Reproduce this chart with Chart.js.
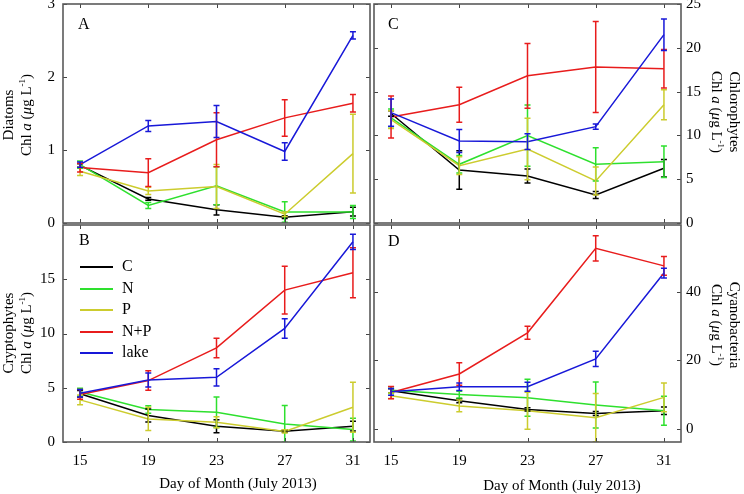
<!DOCTYPE html>
<html>
<head>
<meta charset="utf-8">
<script src="https://cdn.jsdelivr.net/npm/chart.js@4.4.1/dist/chart.umd.min.js"></script>
<style>
  body { margin: 0; background: #fff; }
  #wrap { position: relative; width: 744px; height: 494px; font-family: 'Liberation Serif', 'Times New Roman', serif; color: #000; }
  #wrap canvas { position: absolute; left: 0; top: 0; }
  .ytitle { position: absolute; white-space: nowrap; text-align: center; font-size: 15px; line-height: 18px; z-index: 5; }
  .ytitle sup { font-size: 9px; vertical-align: 6px; line-height: 0; }
  .letter { position: absolute; font-size: 16px; z-index: 5; }
  .xtitle { position: absolute; font-size: 15px; white-space: nowrap; transform: translate(-50%, -50%); z-index: 5; }
  .leg { position: absolute; left: 80px; font-size: 16px; z-index: 5; }
  .leg span.ln { position: absolute; left: 0; top: -1px; width: 33px; height: 2px; }
  .leg span.tx { position: absolute; left: 42px; top: -10px; white-space: nowrap; }
</style>
</head>
<body>
<div id="wrap">
  <canvas id="panelA" width="744" height="494"></canvas>
  <canvas id="panelB" width="744" height="494"></canvas>
  <canvas id="panelC" width="744" height="494"></canvas>
  <canvas id="panelD" width="744" height="494"></canvas>

  <div class="letter" style="left:78px;top:15px">A</div>
  <div class="letter" style="left:79px;top:231px">B</div>
  <div class="letter" style="left:388px;top:15px">C</div>
  <div class="letter" style="left:388px;top:232px">D</div>

  <div class="ytitle" style="left:17px;top:115px;transform:translate(-50%,-50%) rotate(-90deg)">Diatoms<br>Chl <i>a</i> (<i>μ</i>g L<sup>-1</sup>)</div>
  <div class="ytitle" style="left:17px;top:333px;transform:translate(-50%,-50%) rotate(-90deg)">Cryptophytes<br>Chl <i>a</i> (<i>μ</i>g L<sup>-1</sup>)</div>
  <div class="ytitle" style="left:726px;top:112px;transform:translate(-50%,-50%) rotate(90deg)">Chlorophytes<br>Chl <i>a</i> (<i>μ</i>g L<sup>-1</sup>)</div>
  <div class="ytitle" style="left:726px;top:325px;transform:translate(-50%,-50%) rotate(90deg)">Cyanobacteria<br>Chl <i>a</i> (<i>μ</i>g L<sup>-1</sup>)</div>

  <div class="xtitle" style="left:238px;top:483px">Day of Month (July 2013)</div>
  <div class="xtitle" style="left:562px;top:485px">Day of Month (July 2013)</div>

  <div id="legend"></div>
</div>
<script>
// sampling days and treatments
const days = [15, 19, 23, 27, 31];
const treatments = ['C', 'N', 'P', 'N+P', 'lake'];
const colors = ['#000000', '#2ee02e', '#cccc2e', '#e81c1c', '#1818d8'];

// A - Diatoms
const diatomsC = [0.79, 0.33, 0.18, 0.08, 0.155];
const diatomsN = [0.80, 0.24, 0.51, 0.15, 0.15];
const diatomsP = [0.71, 0.44, 0.50, 0.12, 0.95];
const diatomsNP = [0.76, 0.69, 1.14, 1.44, 1.64];
const diatomsLake = [0.80, 1.33, 1.39, 0.98, 2.57];
const diatomsCSd = [0.02, 0.02, 0.07, 0.02, 0.06];
const diatomsNSd = [0.05, 0.04, 0.26, 0.14, 0.09];
const diatomsPSd = [0.06, 0.05, 0.30, 0.03, 0.54];
const diatomsNPSd = [0.06, 0.19, 0.37, 0.25, 0.12];
const diatomsLakeSd = [0.035, 0.075, 0.22, 0.12, 0.05];

// B - Cryptophytes
const cryptoC = [4.45, 2.44, 1.46, 1.0, 1.46];
const cryptoN = [4.6, 2.99, 2.74, 1.67, 1.15];
const cryptoP = [3.88, 2.13, 1.82, 0.97, 3.2];
const cryptoNP = [4.38, 5.66, 8.67, 14.0, 15.6];
const cryptoLake = [4.49, 5.72, 5.96, 10.47, 18.45];
const cryptoCSd = [0.3, 0.6, 0.6, 0.1, 0.45];
const cryptoNSd = [0.35, 0.35, 1.4, 1.7, 1.05];
const cryptoPSd = [0.45, 1.07, 0.5, 0.15, 2.3];
const cryptoNPSd = [0.45, 0.9, 0.9, 2.2, 2.3];
const cryptoLakeSd = [0.35, 0.65, 0.8, 0.9, 0.7];

// C - Chlorophytes
const chloroC = [12.5, 6.05, 5.36, 3.2, 6.25];
const chloroN = [12.0, 6.7, 9.97, 6.7, 7.0];
const chloroP = [11.8, 6.55, 8.45, 4.8, 13.5];
const chloroNP = [12.1, 13.5, 16.8, 17.8, 17.6];
const chloroLake = [12.6, 9.36, 9.28, 11.0, 21.5];
const chloroCSd = [0.3, 2.2, 0.8, 0.4, 1.0];
const chloroNSd = [1.0, 1.0, 3.5, 1.9, 1.8];
const chloroPSd = [1.0, 1.0, 3.5, 1.6, 1.7];
const chloroNPSd = [2.4, 2.0, 3.7, 5.2, 2.2];
const chloroLakeSd = [1.55, 1.3, 0.9, 0.3, 1.8];

// D - Cyanobacteria
const cyanoC = [11.1, 8.2, 5.7, 4.5, 5.3];
const cyanoN = [11.3, 10.0, 9.1, 7.0, 5.3];
const cyanoP = [9.7, 6.7, 5.3, 3.3, 9.2];
const cyanoNP = [10.6, 16.0, 28.0, 52.6, 47.5];
const cyanoLake = [10.8, 12.3, 12.3, 20.4, 45.4];
const cyanoCSd = [0.6, 0.6, 0.5, 0.6, 1.1];
const cyanoNSd = [1.0, 1.0, 5.4, 6.7, 4.2];
const cyanoPSd = [0.8, 1.7, 5.4, 7.0, 4.2];
const cyanoNPSd = [1.8, 3.3, 1.9, 3.7, 2.7];
const cyanoLakeSd = [1.0, 1.1, 1.3, 2.2, 1.4];

// y tick labels per panel
const ticksA = [0, 1, 2, 3];
const ticksB = [0, 5, 10, 15];
const ticksC = [0, 5, 10, 15, 20, 25];
const ticksD = [0, 20, 40];

Chart.defaults.font.family = "'Liberation Serif', 'Times New Roman', serif";
Chart.defaults.font.size = 15;
Chart.defaults.color = '#000';

function makePanel(id, values, errors, yMin, yMax, yTicks, area, ySide, showX) {
    // draws error bars, the frame and inward tick marks on all four sides
    const extras = {
        id: 'extras_' + id,
        afterDatasetsDraw(chart) {
            const ctx = chart.ctx;
            const a = chart.chartArea;
            const x = chart.scales.x, y = chart.scales.y;
            ctx.save();
            ctx.beginPath();
            ctx.rect(a.left, a.top, a.right - a.left, a.bottom - a.top);
            ctx.clip();
            ctx.lineWidth = 1.5;
            errors.forEach((sd, i) => {
                ctx.strokeStyle = colors[i];
                values[i].forEach((v, j) => {
                    const px = x.getPixelForValue(days[j]);
                    const hi = y.getPixelForValue(v + sd[j]);
                    const lo = y.getPixelForValue(v - sd[j]);
                    ctx.beginPath();
                    ctx.moveTo(px, hi); ctx.lineTo(px, lo);
                    ctx.moveTo(px - 3, hi); ctx.lineTo(px + 3, hi);
                    ctx.moveTo(px - 3, lo); ctx.lineTo(px + 3, lo);
                    ctx.stroke();
                });
            });
            ctx.restore();

            ctx.save();
            ctx.strokeStyle = '#444';
            ctx.lineWidth = 1;
            ctx.beginPath();
            y.ticks.forEach(t => {
                const py = Math.round(y.getPixelForValue(t.value)) + 0.5;
                ctx.moveTo(a.left, py); ctx.lineTo(a.left + 4, py);
                ctx.moveTo(a.right, py); ctx.lineTo(a.right - 4, py);
            });
            x.ticks.forEach(t => {
                const px = Math.round(x.getPixelForValue(t.value)) + 0.5;
                ctx.moveTo(px, a.top); ctx.lineTo(px, a.top + 4);
                ctx.moveTo(px, a.bottom); ctx.lineTo(px, a.bottom - 4);
            });
            ctx.stroke();
            ctx.strokeStyle = '#5a5a5a';
            ctx.lineWidth = 1.6;
            ctx.strokeRect(a.left, a.top, a.right - a.left, a.bottom - a.top);
            ctx.restore();
        }
    };

    const datasets = values.map((vals, i) => ({
        label: treatments[i],
        data: vals.map((v, j) => ({ x: days[j], y: v })),
        borderColor: colors[i],
        backgroundColor: colors[i],
        borderWidth: 1.5,
        pointRadius: 0,
        tension: 0,
        order: values.length - i
    }));

    const pad = ySide === 'left'
        ? { left: 0, top: area.top, right: 744 - area.right, bottom: 0 }
        : { left: area.left, top: area.top, right: 0, bottom: 0 };

    return new Chart(document.getElementById(id), {
        type: 'line',
        data: { datasets: datasets },
        options: {
            responsive: false,
            animation: false,
            layout: { padding: pad },
            plugins: { legend: { display: false }, tooltip: { enabled: false } },
            scales: {
                x: {
                    type: 'linear',
                    min: 14,
                    max: 32,
                    grid: { display: false, drawTicks: false },
                    border: { display: false },
                    ticks: { display: showX, padding: 10 },
                    afterBuildTicks: s => { s.ticks = days.map(v => ({ value: v })); },
                    afterFit: s => {
                        s.height = 494 - area.bottom;
                        s.paddingLeft = 0; s.paddingRight = 0;
                    }
                },
                y: {
                    type: 'linear',
                    position: ySide,
                    min: yMin,
                    max: yMax,
                    grid: { display: false, drawTicks: false },
                    border: { display: false },
                    ticks: { padding: ySide === 'left' ? 8 : 5 },
                    afterBuildTicks: s => { s.ticks = yTicks.map(v => ({ value: v })); },
                    afterFit: s => {
                        s.width = ySide === 'left' ? area.left : 744 - area.right;
                        s.paddingTop = 0; s.paddingBottom = 0;
                    }
                }
            }
        },
        plugins: [extras]
    });
}

makePanel('panelA',
    [diatomsC, diatomsN, diatomsP, diatomsNP, diatomsLake],
    [diatomsCSd, diatomsNSd, diatomsPSd, diatomsNPSd, diatomsLakeSd],
    0, 3, ticksA, { left: 63, top: 4, right: 370, bottom: 223 }, 'left', false);

makePanel('panelB',
    [cryptoC, cryptoN, cryptoP, cryptoNP, cryptoLake],
    [cryptoCSd, cryptoNSd, cryptoPSd, cryptoNPSd, cryptoLakeSd],
    0, 20, ticksB, { left: 63, top: 225, right: 370, bottom: 442 }, 'left', true);

makePanel('panelC',
    [chloroC, chloroN, chloroP, chloroNP, chloroLake],
    [chloroCSd, chloroNSd, chloroPSd, chloroNPSd, chloroLakeSd],
    0, 25, ticksC, { left: 374, top: 4, right: 681, bottom: 223 }, 'right', false);

makePanel('panelD',
    [cyanoC, cyanoN, cyanoP, cyanoNP, cyanoLake],
    [cyanoCSd, cyanoNSd, cyanoPSd, cyanoNPSd, cyanoLakeSd],
    -3.8, 59.4, ticksD, { left: 374, top: 225, right: 681, bottom: 442 }, 'right', true);

// legend inside panel B
const legend = document.getElementById('legend');
treatments.forEach((name, i) => {
    const row = document.createElement('div');
    row.className = 'leg';
    row.style.top = (267 + i * 21.5) + 'px';
    const ln = document.createElement('span');
    ln.className = 'ln';
    ln.style.background = colors[i];
    const tx = document.createElement('span');
    tx.className = 'tx';
    tx.textContent = name;
    row.appendChild(ln);
    row.appendChild(tx);
    legend.appendChild(row);
});
</script>
</body>
</html>
